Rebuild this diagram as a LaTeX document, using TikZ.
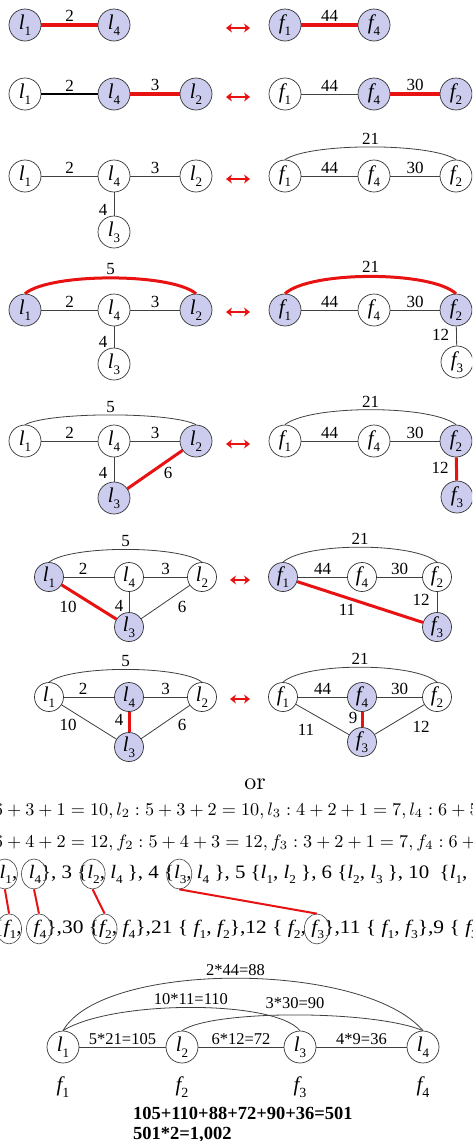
\RequirePackage{fix-cm}
\documentclass[tikz,border=0pt]{standalone}
\usepackage[no-math]{fontspec}
\newfontfamily\tms{Liberation Serif}
\usetikzlibrary{arrows.meta,shapes.geometric}
\definecolor{lav}{RGB}{204,204,238}
\definecolor{rd}{RGB}{232,18,18}
\newcommand\vl[3][13]{{\itshape #2}\raisebox{-0.27em}{\fontsize{#1}{#1}\selectfont #3}}
\newcommand\lx[1]{\vl[12]{l}{#1}}
\newcommand\fx[1]{\vl[12]{f}{#1}}
\begin{document}
\begin{tikzpicture}[x=1pt,y=-1pt]
\tikzset{
 vx/.style={circle, draw=black!80, line width=0.7pt, minimum size=32pt, inner sep=0pt, fill=white, font=\tms\fontsize{21}{21}\selectfont},
 hv/.style={vx, fill=lav},
 vs/.style={minimum size=29pt},
 ed/.style={draw=black!75, line width=0.8pt},
 edk/.style={draw=black, line width=1.3pt},
 er/.style={draw=rd, line width=3pt},
 erb/.style={draw=rd, line width=3.6pt},
 el/.style={font=\tms\fontsize{17}{17}\selectfont, inner sep=1pt},
 bl/.style={font=\tms\fontsize{16.5}{16.5}\selectfont, inner sep=1pt},
 dbl/.style={draw=rd, line width=2.2pt, {Stealth[length=6pt,width=9pt]}-{Stealth[length=6pt,width=9pt]}},
 oval/.style={ellipse, draw=black!75, line width=0.6pt, minimum width=25pt, minimum height=30pt, inner sep=0pt},
 fr/.style={inner sep=0pt, outer sep=0pt, anchor=base west, font=\tms\fontsize{19}{19}\selectfont, xscale=1.1},
 fq/.style={fr, xscale=1.13/1.1},
 eq/.style={inner sep=0pt, outer sep=0pt, anchor=base west, font=\fontsize{10}{12}\selectfont, xscale=1.82, yscale=1.8},
 rl/.style={draw=rd, line width=2pt},
 fb/.style={inner sep=0pt, font=\tms\fontsize{21}{21}\selectfont},
 bt/.style={inner sep=0pt, anchor=base west, font=\tms\bfseries\fontsize{18.5}{18.5}\selectfont},
}
\useasboundingbox (0,0) rectangle (472,1141);
\clip (0,0) rectangle (472,1141);
\fill[white] (0,0) rectangle (472,1141);

% ---------- Row 1
\node[hv] (r1l1) at (25,25) {\vl{l}{1}};
\node[hv] (r1l4) at (114,25) {\vl{l}{4}};
\draw[erb] (r1l1) -- node[el,above=1pt]{2} (r1l4);
\node[hv] (r1f1) at (285,25) {\vl{f}{1}};
\node[hv] (r1f4) at (374,25) {\vl{f}{4}};
\draw[erb] (r1f1) -- node[el,above=1pt]{44} (r1f4);
\coordinate (a1a) at (226,28); \coordinate (a1b) at (250,28);
\draw[dbl] (a1a) -- (a1b);

% ---------- Row 2
\node[vx] (r2l1) at (25,94) {\vl{l}{1}};
\node[hv] (r2l4) at (114,94) {\vl{l}{4}};
\node[hv] (r2l2) at (196,94) {\vl{l}{2}};
\draw[edk] (r2l1) -- node[el,above=1pt]{2} (r2l4);
\draw[erb] (r2l4) -- node[el,above=1pt]{3} (r2l2);
\node[vx] (r2f1) at (285,94) {\vl{f}{1}};
\node[hv] (r2f4) at (374,94) {\vl{f}{4}};
\node[hv] (r2f2) at (456,94) {\vl{f}{2}};
\draw[ed] (r2f1) -- node[el,above=1pt]{44} (r2f4);
\draw[erb] (r2f4) -- node[el,above=1pt]{30} (r2f2);
\coordinate (a2a) at (226,97); \coordinate (a2b) at (250,97);
\draw[dbl] (a2a) -- (a2b);

% ---------- Row 3
\node[vx] (r3l1) at (25,176) {\vl{l}{1}};
\node[vx] (r3l4) at (114,176) {\vl{l}{4}};
\node[vx] (r3l2) at (196,176) {\vl{l}{2}};
\node[vx] (r3l3) at (114,232) {\vl{l}{3}};
\draw[ed] (r3l1) -- node[el,above=1pt]{2} (r3l4);
\draw[ed] (r3l4) -- node[el,above=1pt]{3} (r3l2);
\draw[ed] (r3l4) -- node[el,xshift=-11pt,yshift=-6pt]{4} (r3l3);
\node[vx] (r3f1) at (285,176) {\vl{f}{1}};
\node[vx] (r3f4) at (374,176) {\vl{f}{4}};
\node[vx] (r3f2) at (456,176) {\vl{f}{2}};
\draw[ed] (r3f1) -- node[el,above=1pt]{44} (r3f4);
\draw[ed] (r3f4) -- node[el,above=1pt]{30} (r3f2);
\draw[ed] (r3f1.north) .. controls +(25,-17) and +(-25,-17) .. (r3f2.north) node[el,midway,above=1pt]{21};
\coordinate (a3a) at (226,179); \coordinate (a3b) at (250,179);
\draw[dbl] (a3a) -- (a3b);

% ---------- Row 4
\node[hv] (r4l1) at (25,310) {\vl{l}{1}};
\node[vx] (r4l4) at (114,310) {\vl{l}{4}};
\node[hv] (r4l2) at (196,310) {\vl{l}{2}};
\node[vx] (r4l3) at (114,364) {\vl{l}{3}};
\draw[ed] (r4l1) -- node[el,above=1pt]{2} (r4l4);
\draw[ed] (r4l4) -- node[el,above=1pt]{3} (r4l2);
\draw[ed] (r4l4) -- node[el,xshift=-11pt,yshift=-5pt]{4} (r4l3);
\draw[er] (r4l1.north) .. controls +(25,-21) and +(-25,-21) .. (r4l2.north) node[el,midway,above=1pt]{5};
\node[hv] (r4f1) at (285,310) {\vl{f}{1}};
\node[vx] (r4f4) at (374,310) {\vl{f}{4}};
\node[hv] (r4f2) at (456,310) {\vl{f}{2}};
\node[vx] (r4f3) at (457,362) {\vl{f}{3}};
\draw[ed] (r4f1) -- node[el,above=1pt]{44} (r4f4);
\draw[ed] (r4f4) -- node[el,above=1pt]{30} (r4f2);
\draw[ed] (r4f2) -- node[el,xshift=-16pt,yshift=1pt]{12} (r4f3);
\draw[er] (r4f1.north) .. controls +(25,-23) and +(-25,-23) .. (r4f2.north) node[el,midway,above=1pt]{21};
\coordinate (a4a) at (226,312); \coordinate (a4b) at (250,312);
\draw[dbl] (a4a) -- (a4b);

% ---------- Row 5
\node[vx] (r5l1) at (25,441) {\vl{l}{1}};
\node[vx] (r5l4) at (114,441) {\vl{l}{4}};
\node[hv] (r5l2) at (196,441) {\vl{l}{2}};
\node[hv] (r5l3) at (114,498) {\vl{l}{3}};
\draw[ed] (r5l1) -- node[el,above=1pt]{2} (r5l4);
\draw[ed] (r5l4) -- node[el,above=1pt]{3} (r5l2);
\draw[ed] (r5l4) -- node[el,xshift=-11pt,yshift=-3.5pt]{4} (r5l3);
\draw[er] (r5l2) -- node[el,xshift=13pt,yshift=-3.5pt]{6} (r5l3);
\draw[ed] (r5l1.north) .. controls +(25,-13) and +(-25,-13) .. (r5l2.north) node[el,midway,above=1pt]{5};
\node[vx] (r5f1) at (285,441) {\vl{f}{1}};
\node[vx] (r5f4) at (374,441) {\vl{f}{4}};
\node[hv] (r5f2) at (456,441) {\vl{f}{2}};
\node[hv] (r5f3) at (457,497) {\vl{f}{3}};
\draw[ed] (r5f1) -- node[el,above=1pt]{44} (r5f4);
\draw[ed] (r5f4) -- node[el,above=1pt]{30} (r5f2);
\draw[er] (r5f2) -- node[el,xshift=-16.5pt,yshift=1pt]{12} (r5f3);
\draw[ed] (r5f1.north) .. controls +(25,-20) and +(-25,-20) .. (r5f2.north) node[el,midway,above=1pt]{21};
\coordinate (a5a) at (226,444); \coordinate (a5b) at (250,444);
\draw[dbl] (a5a) -- (a5b);

% ---------- Row 6
\node[hv,vs] (r6l1) at (49,577) {\vl{l}{1}};
\node[vx,vs] (r6l4) at (129,577) {\vl{l}{4}};
\node[vx,vs] (r6l2) at (202,577) {\vl{l}{2}};
\node[hv,vs] (r6l3) at (129,627) {\vl{l}{3}};
\draw[ed] (r6l1) -- node[el,above=1pt,xshift=-6pt]{2} (r6l4);
\draw[ed] (r6l4) -- node[el,above=1pt]{3} (r6l2);
\draw[ed] (r6l4) -- node[el,xshift=-10pt,yshift=-4pt]{4} (r6l3);
\draw[ed] (r6l2) -- node[el,xshift=16.5pt,yshift=-5pt]{6} (r6l3);
\draw[er] (r6l1) -- node[el,xshift=-21pt,yshift=-5pt]{10} (r6l3);
\draw[ed] (r6l1.north) .. controls +(22,-17) and +(-22,-17) .. (r6l2.north) node[el,midway,above=1pt]{5};
\node[hv,vs] (r6f1) at (283,577) {\vl{f}{1}};
\node[vx,vs] (r6f4) at (362,577) {\vl{f}{4}};
\node[vx,vs] (r6f2) at (437,577) {\vl{f}{2}};
\node[hv,vs] (r6f3) at (437,627) {\vl{f}{3}};
\draw[ed] (r6f1) -- node[el,above=1pt]{44} (r6f4);
\draw[ed] (r6f4) -- node[el,above=1pt]{30} (r6f2);
\draw[ed] (r6f2) -- node[el,xshift=-16pt,yshift=2pt]{12} (r6f3);
\draw[er] (r6f1) -- node[el,xshift=-13pt,yshift=-8pt]{11} (r6f3);
\draw[ed] (r6f1.north) .. controls +(22,-20) and +(-22,-20) .. (r6f2.north) node[el,midway,above=1pt]{21};
\coordinate (a6a) at (230,580); \coordinate (a6b) at (250,580);
\draw[dbl] (a6a) -- (a6b);

% ---------- Row 7
\node[vx,vs] (r7l1) at (49,697) {\vl{l}{1}};
\node[hv,vs] (r7l4) at (129,697) {\vl{l}{4}};
\node[vx,vs] (r7l2) at (202,697) {\vl{l}{2}};
\node[hv,vs] (r7l3) at (129,747) {\vl{l}{3}};
\draw[ed] (r7l1) -- node[el,above=1pt,xshift=-6pt]{2} (r7l4);
\draw[ed] (r7l4) -- node[el,above=1pt]{3} (r7l2);
\draw[ed] (r7l1) -- node[el,xshift=-21pt,yshift=-3pt]{10} (r7l3);
\draw[ed] (r7l2) -- node[el,xshift=16.5pt,yshift=-3pt]{6} (r7l3);
\draw[er] (r7l4) -- node[el,xshift=-10pt,yshift=2pt]{4} (r7l3);
\draw[ed] (r7l1.north) .. controls +(22,-17) and +(-22,-17) .. (r7l2.north) node[el,midway,above=1pt]{5};
\node[vx,vs] (r7f1) at (283,697) {\vl{f}{1}};
\node[hv,vs] (r7f4) at (362,697) {\vl{f}{4}};
\node[vx,vs] (r7f2) at (437,697) {\vl{f}{2}};
\node[hv,vs] (r7f3) at (362,742) {\vl{f}{3}};
\draw[ed] (r7f1) -- node[el,above=1pt]{44} (r7f4);
\draw[ed] (r7f4) -- node[el,above=1pt]{30} (r7f2);
\draw[ed] (r7f1) -- node[el,xshift=-16.5pt,yshift=-10.5pt]{11} (r7f3);
\draw[ed] (r7f2) -- node[el,xshift=21.5pt,yshift=-7.5pt]{12} (r7f3);
\draw[er] (r7f4) -- node[el,xshift=-9pt,yshift=1.5pt]{9} (r7f3);
\draw[ed] (r7f1.north) .. controls +(22,-20) and +(-22,-20) .. (r7f2.north) node[el,midway,above=1pt]{21};
\coordinate (a7a) at (230,699); \coordinate (a7b) at (250,699);
\draw[dbl] (a7a) -- (a7b);

% ---------- or + equations
\node[inner sep=0pt, font=\fontsize{10}{12}\selectfont, scale=2.4] (ortxt) at (255,784) {or};
\node[eq] (eqa) at (-6,815) {$6+3+1=10, l_2:5+3+2=10, l_3:4+2+1=7, l_4:6+5$};
\node[eq] (eqb) at (-6,847) {$6+4+2=12, f_2:5+4+3=12, f_3:3+2+1=7, f_4:6+\phantom{5}$};

% line 3
\node[fr, anchor=base] (p3) at (35,878) {\lx4};
\node[fr, anchor=base east] (p2) at (p3.base west) {,\kern0.55em};
\node[fr, anchor=base east] (p1) at (p2.base west) {\lx1};
\node[fr, anchor=base east] (p0) at (p1.base west) {2\ \{};
\node[fr] (p4) at (p3.base east) {\},\ 3\ \{};
\node[fr] (p5) at (p4.base east) {\lx2};
\node[fr] (p6) at (p5.base east) {,\ \lx4\ \},\ 4\ \{};
\node[fr] (p7) at (p6.base east) {\lx3};
\node[fr] (p8) at (p7.base east) {,\ \lx4\ \},\ 5\ \{\lx1,\ \lx2\ \},\ 6\ \{\lx2,\ \lx3\ \},\ 10\ \ \{\lx1,\ \lx3\ \}};
\node[oval] (ol1) at ([xshift=-1pt]p1.center) {};
\node[oval] (ol4) at ([xshift=-1pt]p3.center) {};
\node[oval] (ol2) at ([xshift=-1pt]p5.center) {};
\node[oval] (ol3) at ([xshift=-1pt]p7.center) {};

% line 4
\node[fq, anchor=base] (q3) at (40,933) {\fx4};
\node[fq, anchor=base east] (q2) at (q3.base west) {,\kern0.55em};
\node[fq, anchor=base east] (q1) at (q2.base west) {\fx1};
\node[fq, anchor=base east] (q0) at (q1.base west) {44\ \{};
\node[fq] (q4) at (q3.base east) {\},30\ \{};
\node[fq] (q5) at (q4.base east) {\fx2};
\node[fq] (q6) at (q5.base east) {,\ \fx4\},21\ \{\ \fx1,\ \fx2\},12\ \{\ \fx2,\kern0.25em};
\node[fq] (q7) at (q6.base east) {\fx3};
\node[fq] (q8) at (q7.base east) {\},11\ \{\ \fx1,\ \fx3\},9\ \{\ \fx3,\ \fx4\}};
\node[oval] (of1) at ([xshift=-1pt]q1.center) {};
\node[oval] (of4) at ([xshift=-1pt]q3.center) {};
\node[oval] (of2) at ([xshift=-1pt]q5.center) {};
\node[oval] (of3) at ([xshift=-1pt]q7.center) {};

\draw[rl] (ol1.south) -- (of1.north);
\draw[rl] (ol4.south) -- (of4.north);
\draw[rl] (ol2.south) -- (of2.north);
\draw[rl] (ol3.south) -- (of3.north);

% ---------- bottom graph
\node[vx] (b1) at (63,1047) {\vl{l}{1}};
\node[vx] (b2) at (182,1047) {\vl{l}{2}};
\node[vx] (b3) at (300,1047) {\vl{l}{3}};
\node[vx] (b4) at (423,1047) {\vl{l}{4}};
\draw[ed] (b1) -- node[bl,above=1pt]{5*21=105} (b2);
\draw[ed] (b2) -- node[bl,above=1pt]{6*12=72} (b3);
\draw[ed] (b3) -- node[bl,above=1pt]{4*9=36} (b4);
\draw[ed] (b1.north) .. controls +(40,-70) and +(-60,-70) .. (b4.north) node[bl,midway,above=1pt]{2*44=88};
\draw[ed] (b1.north) .. controls +(50,-31) and +(-25,-31) .. (b3.north) node[bl,midway,above=1pt]{10*11=110};
\draw[ed] (b2.north) .. controls +(30,-21) and +(-50,-21) .. (b4.north) node[bl,midway,above=5pt]{3*30=90};
\node[fb] (g1) at (63,1087) {\vl[14]{f}{1}};
\node[fb] (g2) at (182,1087) {\vl[14]{f}{2}};
\node[fb] (g3) at (300,1087) {\vl[14]{f}{3}};
\node[fb] (g4) at (423,1087) {\vl[14]{f}{4}};
\node[bt] (s1) at (133,1119) {105+110+88+72+90+36=501};
\node[bt] (s2) at (133,1139) {501*2=1,002};
\end{tikzpicture}
\end{document}
